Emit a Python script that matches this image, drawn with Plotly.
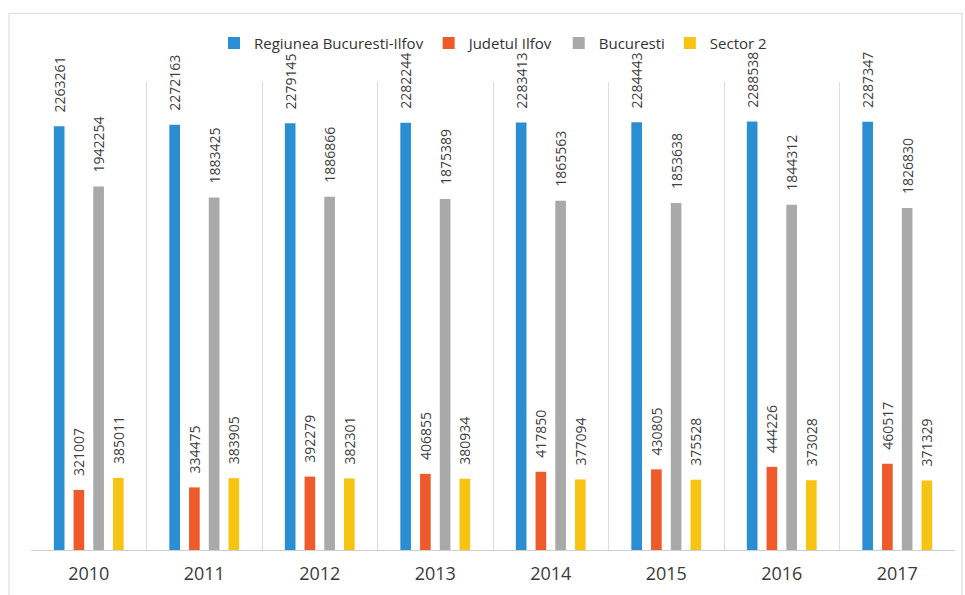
import plotly.graph_objects as go

# Population by year for the Bucharest-Ilfov area
years = ["2010", "2011", "2012", "2013", "2014", "2015", "2016", "2017"]
regiunea = [2263261, 2272163, 2279145, 2282244, 2283413, 2284443, 2288538, 2287347]
ilfov = [321007, 334475, 392279, 406855, 417850, 430805, 444226, 460517]
bucuresti = [1942254, 1883425, 1886866, 1875389, 1865563, 1853638, 1844312, 1826830]
sector2 = [385011, 383905, 382301, 380934, 377094, 375528, 373028, 371329]

series = [
    ("Regiunea Bucuresti-Ilfov", regiunea, "#2b8ed3"),
    ("Judetul Ilfov", ilfov, "#ef5a2b"),
    ("Bucuresti", bucuresti, "#a9a9a9"),
    ("Sector 2", sector2, "#f7c414"),
]

fig = go.Figure()
for name, vals, color in series:
    fig.add_trace(go.Bar(
        name=name,
        x=years,
        y=vals,
        marker=dict(color=color, line=dict(width=0)),
        texttemplate="\u00a0\u00a0\u00a0%{y:.0f}",
        textposition="outside",
        textangle=-90,
        constraintext="none",
        cliponaxis=False,
        textfont=dict(family="Open Sans", size=14, color="#404040"),
    ))

fig.update_layout(
    width=965,
    height=595,
    barmode="group",
    bargap=0.317,
    bargroupgap=0.46,
    paper_bgcolor="white",
    plot_bgcolor="white",
    margin=dict(l=31, r=10, t=82, b=42),
    font=dict(family="Open Sans", color="#404040"),
    showlegend=True,
    legend=dict(
        orientation="h",
        x=0.5,
        xanchor="center",
        y=1.083,
        yanchor="middle",
        font=dict(size=15, color="#333333"),
        itemwidth=30,
        bgcolor="rgba(0,0,0,0)",
        traceorder="normal",
    ),
    xaxis=dict(
        type="category",
        tickson="boundaries",
        showgrid=True,
        gridcolor="#dcdcdc",
        gridwidth=1,
        showline=True,
        linecolor="#d0d0d0",
        ticks="",
        ticklabelstandoff=7,
        tickfont=dict(size=18, color="#3a3a3a"),
    ),
    yaxis=dict(
        range=[0, 2500000],
        showgrid=False,
        zeroline=False,
        showticklabels=False,
        showline=False,
        ticks="",
    ),
    shapes=[
        dict(
            type="rect", xref="paper", yref="paper",
            x0=-0.0238, x1=1.0076, y0=-0.12, y1=1.1468,
            line=dict(color="#d6d6d6", width=1),
            layer="below",
        )
    ],
)

fig.write_html("out.html")
